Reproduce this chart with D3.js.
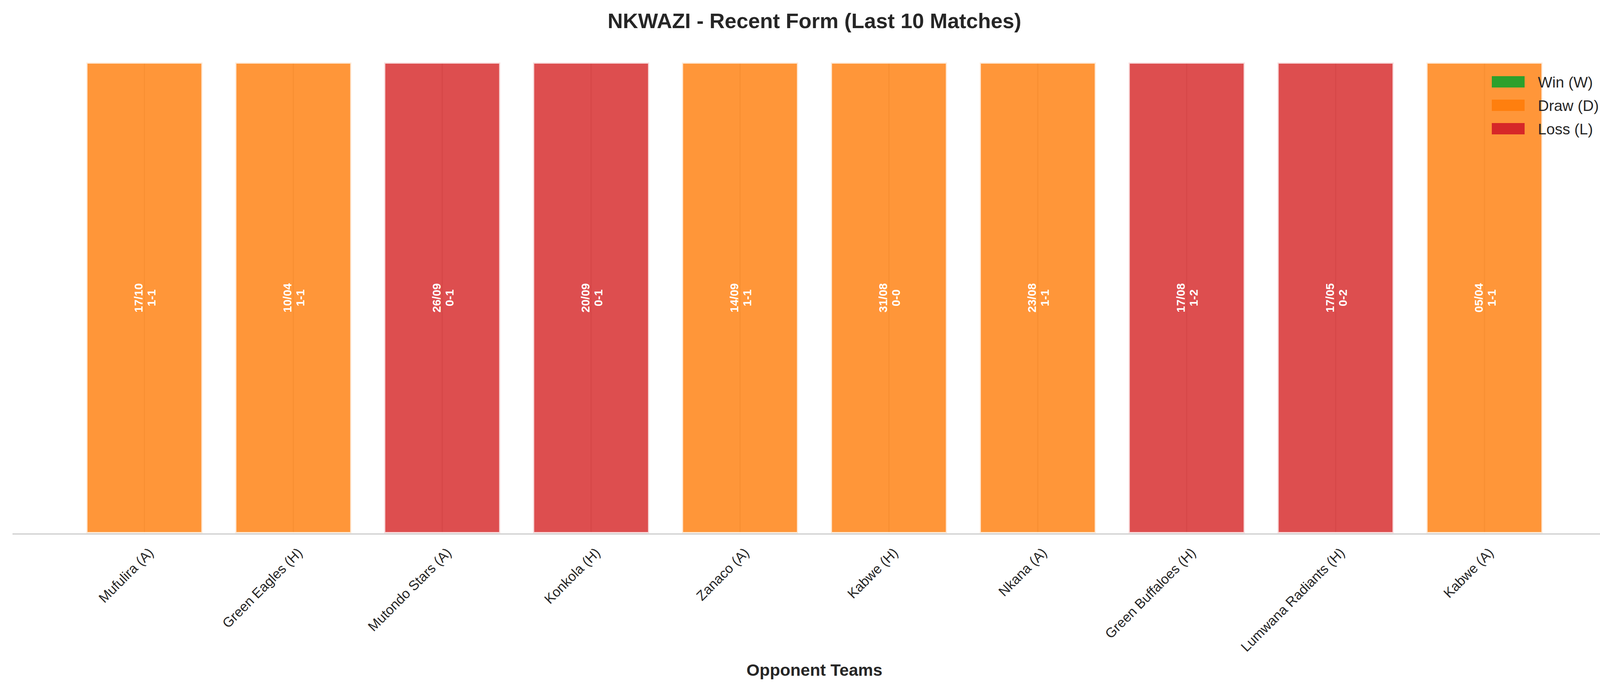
<!DOCTYPE html>
<html>
<head>
<meta charset="utf-8">
<script src="https://cdn.jsdelivr.net/npm/d3@7"></script>
<style>
  body { margin: 0; background: #fff; }
  text { font-family: "Liberation Sans", Arial, sans-serif; }
</style>
</head>
<body>
<svg id="chart" width="4170" height="1769"></svg>
<script>
const opponents = ["Mufulira (A)", "Green Eagles (H)", "Mutondo Stars (A)", "Konkola (H)", "Zanaco (A)",
  "Kabwe (H)", "Nkana (A)", "Green Buffaloes (H)", "Lumwana Radiants (H)", "Kabwe (A)"];
const results = ["D", "D", "L", "L", "D", "D", "D", "L", "L", "D"];
const dates = ["17/10", "10/04", "26/09", "20/09", "14/09", "31/08", "23/08", "17/08", "17/05", "05/04"];
const scores = ["1-1", "1-1", "0-1", "0-1", "1-1", "0-0", "1-1", "1-2", "0-2", "1-1"];
const legendItems = [["W", "Win (W)"], ["D", "Draw (D)"], ["L", "Loss (L)"]];

const colors = { W: "#2ca02c", D: "#ff7f0e", L: "#d62728" };

const svg = d3.select("#chart");
const x = d3.scaleLinear().domain([-0.886, 9.886]).range([32, 4138]);
const y = d3.scaleLinear().domain([0, 1]).range([1365, 160]);
const barW = x(0.78) - x(0);

// vertical grid lines (seaborn style) behind bars
svg.append("g").selectAll("line")
  .data(opponents)
  .join("line")
    .attr("x1", (d, i) => x(i)).attr("x2", (d, i) => x(i))
    .attr("y1", y(1)).attr("y2", 1365)
    .style("stroke", "#d8d8d8").style("stroke-width", 3);

svg.append("g").selectAll("rect")
  .data(opponents)
  .join("rect")
    .attr("x", (d, i) => x(i) - barW / 2)
    .attr("y", y(1))
    .attr("width", barW)
    .attr("height", y(0) - y(1))
    .attr("fill", (d, i) => colors[results[i]])
    .attr("fill-opacity", 0.82)
    .style("stroke", "#fff")
    .style("stroke-opacity", 0.8)
    .style("stroke-width", 6);

// labels inside bars
const lab = svg.append("g").selectAll("text")
  .data(opponents)
  .join("text")
    .attr("transform", (d, i) => `translate(${x(i)},${y(0.5)}) rotate(-90)`)
    .attr("text-anchor", "middle")
    .style("fill", "#fff").style("font-weight", "bold").style("font-size", "30px");
lab.append("tspan").attr("x", 0).attr("dy", "-0.15em").text((d, i) => dates[i]);
lab.append("tspan").attr("x", 0).attr("dy", "1.1em").text((d, i) => scores[i]);

// x axis line
svg.append("line").attr("x1", 32).attr("x2", 4138).attr("y1", 1367).attr("y2", 1367)
  .style("stroke", "#cccccc").style("stroke-width", 3);

svg.append("g").selectAll("text")
  .data(opponents)
  .join("text")
    .attr("transform", (d, i) => `translate(${x(i) + 8},${1400}) rotate(-45)`)
    .attr("text-anchor", "end")
    .attr("dy", "0.7em")
    .style("font-size", "35px").style("fill", "#262626")
    .text(d => d);

svg.append("text").attr("x", 2085).attr("y", 1730).attr("text-anchor", "middle")
  .style("font-size", "43px").style("font-weight", "bold").style("fill", "#262626")
  .text("Opponent Teams");

svg.append("text").attr("x", 2085).attr("y", 72).attr("text-anchor", "middle")
  .style("font-size", "54px").style("font-weight", "bold").style("fill", "#262626")
  .text("NKWAZI - Recent Form (Last 10 Matches)");

// legend
const lg = svg.append("g").selectAll("g")
  .data(legendItems)
  .join("g")
    .attr("transform", (d, i) => `translate(3819,${195 + i * 60})`);
lg.append("rect").attr("width", 84).attr("height", 29).attr("fill", d => colors[d[0]]);
lg.append("text").attr("x", 118).attr("y", 29).style("font-size", "39px").style("fill", "#262626")
  .text(d => d[1]);
</script>
</body>
</html>
